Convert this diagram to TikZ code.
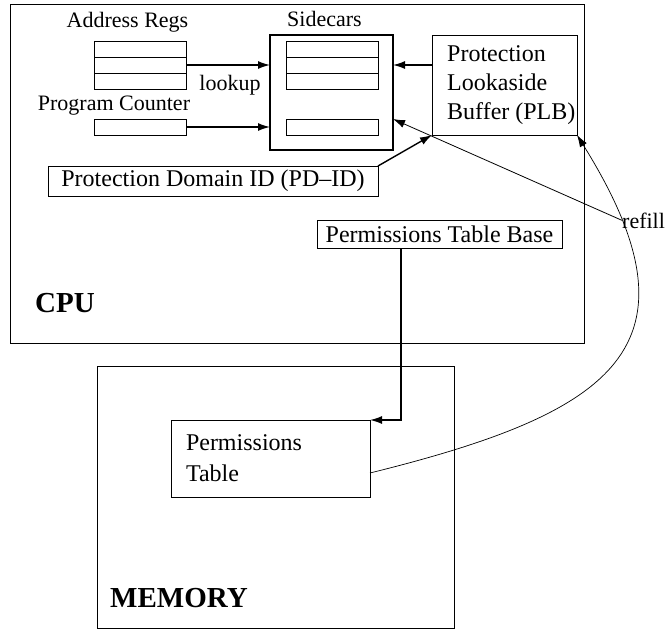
\documentclass[tikz,border=0pt]{standalone}
\usepackage{fontspec}
\setmainfont{Liberation Serif}
\usetikzlibrary{arrows.meta}

\tikzset{
  box/.style={draw, line width=0.8pt, inner sep=0pt, outer sep=0pt},
  reg/.style={box, minimum width=92pt, minimum height=16pt},
  lbl/.style={font=\fontsize{22}{26}\selectfont, inner sep=0pt, anchor=base},
  boxtext/.style={font=\fontsize{24}{29}\selectfont},
  unitlbl/.style={font=\bfseries\fontsize{29}{34}\selectfont, inner sep=0pt, anchor=base west},
  link/.style={line width=1.4pt, -{Latex[length=12pt,width=8pt]}},
  thinlink/.style={line width=0.8pt, -{Latex[length=12pt,width=8pt]}}
}

\begin{document}
\begin{tikzpicture}[x=1pt,y=-1pt]
\useasboundingbox (0,0) rectangle (670,630);

% CPU and memory
\node[box, minimum width=574pt, minimum height=339pt] (cpu) at (297,173.5) {};
\node[box, minimum width=357pt, minimum height=262pt] (mem) at (275.5,497) {};
\node[unitlbl] (cpulbl) at (35,312) {CPU};
\node[unitlbl] (memlbl) at (110,607) {MEMORY};

% registers
\node[lbl] (addrlbl) at (127.5,27) {Address Regs};
\foreach \i/\y in {1/49,2/65,3/81}
  \node[reg] (addr\i) at (140,\y) {};
\node[lbl] (pclbl) at (114,110) {Program Counter};
\node[reg] (pc) at (140,127) {};

% sidecars
\node[lbl] (sidelbl) at (324.5,26) {Sidecars};
\node[box, line width=1.6pt, minimum width=123pt, minimum height=115pt] (side) at (331.5,92.5) {};
\foreach \i/\y in {1/49,2/65,3/81}
  \node[reg] (sc\i) at (332,\y) {};
\node[reg] (scpc) at (332,127) {};

% PLB
\node[box, minimum width=145pt, minimum height=100pt] (plb) at (504.5,85) {};
\node[boxtext, align=left, anchor=west, inner sep=0pt] (plbtext) at ([xshift=15pt]plb.west) {Protection\\Lookaside\\Buffer (PLB)};

\node[box, boxtext, minimum width=330pt, minimum height=30pt] (pdid) at (213,181) {Protection Domain ID (PD–ID)};
\node[box, boxtext, minimum width=245pt, minimum height=28pt] (ptb) at (439.5,234) {Permissions Table Base};
\node[box, boxtext, align=left, text width=169pt, inner xsep=15pt, minimum height=77pt] (pt) at (270.5,458.5) {Permissions\\[2pt]Table};

% connectors
\draw[link] (addr2.east) -- (addr2.east -| side.west);
\draw[link] (pc.east) -- (pc.east -| side.west);
\node[lbl] (lookup) at (230,90) {lookup};
\draw[link] (plb.west |- sc2.center) -- (sc2.center -| side.east);
\draw[link] (pdid.north east) -- (plb.south west);
\node[lbl, anchor=base west] (refill) at (622,228) {refill};
\draw[thinlink] (refill.west) -- (side.east |- scpc.north);
\draw[link] ([xshift=-38.5pt]ptb.south) |- (pt.north east);
\draw[line width=0.7pt, -{Latex[length=12pt,width=8pt]}] ([yshift=-14.5pt]pt.east)
  .. controls +(242,-60) and +(133,213) .. (plb.south east);
\end{tikzpicture}
\end{document}
